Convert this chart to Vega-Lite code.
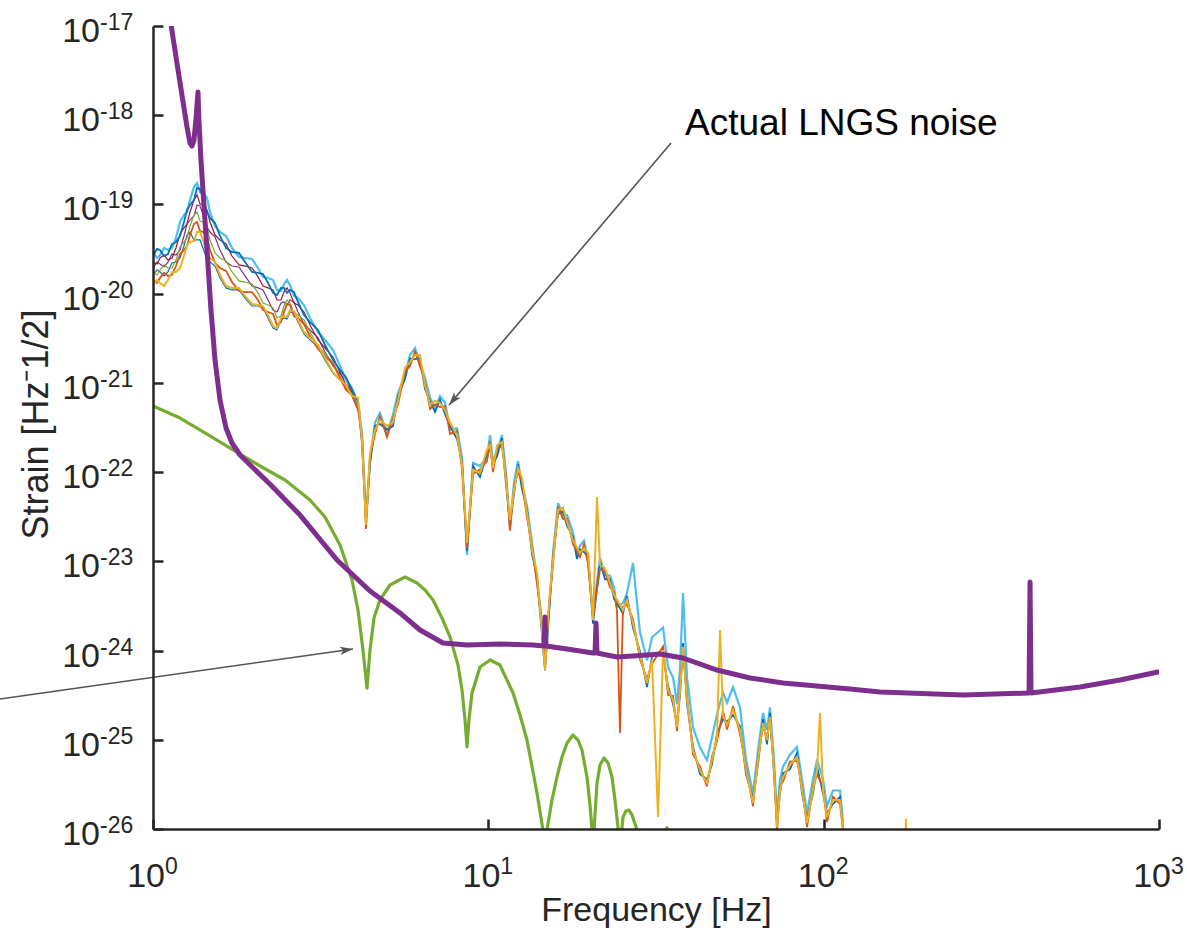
{
"$schema":"https://vega.github.io/schema/vega-lite/v6.json",
"width":1006,"height":803,
"autosize":{"type":"none"},
"padding":{"left":153,"top":26,"right":28,"bottom":105},
"background":"#ffffff",
"config":{"view":{"stroke":null},"font":"Liberation Sans"},
"datasets":{
"noise":[
{"f":1.000,"C":2.93e-20,"B":2.64e-20,"R":2.26e-20,"P":1.94e-20,"G":1.75e-20,"B2":1.62e-20,"O":1.42e-20,"Y":1.25e-20},
{"f":1.028,"C":2.51e-20,"B":3.17e-20,"R":2.15e-20,"P":2.26e-20,"G":1.62e-20,"B2":1.84e-20,"O":1.32e-20,"Y":1.42e-20},
{"f":1.049,"C":2.71e-20,"B":3.09e-20,"R":2.51e-20,"P":2.15e-20,"G":1.84e-20,"B2":1.75e-20,"O":1.50e-20,"Y":1.32e-20},
{"f":1.079,"C":3.25e-20,"B":2.64e-20,"R":2.71e-20,"P":1.99e-20,"G":2.10e-20,"B2":1.58e-20,"O":1.71e-20,"Y":1.22e-20},
{"f":1.108,"C":3.09e-20,"B":2.78e-20,"R":2.38e-20,"P":2.26e-20,"G":1.94e-20,"B2":1.75e-20,"O":1.58e-20,"Y":1.42e-20},
{"f":1.139,"C":3.25e-20,"B":3.60e-20,"R":2.51e-20,"P":2.78e-20,"G":1.94e-20,"B2":2.21e-20,"O":1.62e-20,"Y":1.75e-20},
{"f":1.171,"C":4.21e-20,"B":3.79e-20,"R":3.25e-20,"P":2.71e-20,"G":2.38e-20,"B2":2.26e-20,"O":2.04e-20,"Y":1.75e-20},
{"f":1.204,"C":6.36e-20,"B":4.43e-20,"R":4.66e-20,"P":3.09e-20,"G":3.33e-20,"B2":2.51e-20,"O":2.78e-20,"Y":1.94e-20},
{"f":1.237,"C":7.62e-20,"B":6.36e-20,"R":5.45e-20,"P":4.43e-20,"G":3.79e-20,"B2":3.42e-20,"O":3.09e-20,"Y":2.64e-20},
{"f":1.263,"C":8.23e-20,"B":8.67e-20,"R":6.04e-20,"P":6.04e-20,"G":4.21e-20,"B2":4.54e-20,"O":3.42e-20,"Y":3.51e-20},
{"f":1.289,"C":1.12e-19,"B":9.86e-20,"R":8.23e-20,"P":6.69e-20,"G":5.73e-20,"B2":4.91e-20,"O":4.55e-20,"Y":3.79e-20},
{"f":1.325,"C":1.57e-19,"B":1.12e-19,"R":1.12e-19,"P":7.42e-20,"G":7.62e-20,"B2":4.00e-20,"O":6.04e-20,"Y":3.89e-20},
{"f":1.353,"C":1.74e-19,"B":1.53e-19,"R":1.28e-19,"P":9.86e-20,"G":8.23e-20,"B2":4.00e-20,"O":6.36e-20,"Y":4.91e-20},
{"f":1.381,"C":1.38e-19,"B":1.49e-19,"R":1.01e-19,"P":9.60e-20,"G":6.52e-20,"B2":4.00e-20,"O":5.04e-20,"Y":4.91e-20},
{"f":1.409,"C":1.38e-19,"B":1.18e-19,"R":9.86e-20,"P":7.81e-20,"G":6.36e-20,"B2":3.25e-20,"O":4.91e-20,"Y":4.00e-20},
{"f":1.449,"C":1.18e-19,"B":8.23e-20,"R":8.67e-20,"P":5.59e-20,"G":5.59e-20,"B2":2.45e-20,"O":4.32e-20,"Y":2.86e-20},
{"f":1.479,"C":8.23e-20,"B":7.05e-20,"R":6.36e-20,"P":4.91e-20,"G":4.00e-20,"B2":2.26e-20,"O":3.09e-20,"Y":2.51e-20},
{"f":1.531,"C":5.73e-20,"B":6.19e-20,"R":4.54e-20,"P":4.32e-20,"G":2.86e-20,"B2":2.04e-20,"O":2.21e-20,"Y":2.26e-20},
{"f":1.584,"C":4.91e-20,"B":4.43e-20,"R":4.00e-20,"P":3.09e-20,"G":2.51e-20,"B2":1.50e-20,"O":1.94e-20,"Y":1.62e-20},
{"f":1.651,"C":4.43e-20,"B":3.25e-20,"R":3.60e-20,"P":2.26e-20,"G":2.32e-20,"B2":1.16e-20,"O":1.80e-20,"Y":1.22e-20},
{"f":1.720,"C":3.25e-20,"B":2.93e-20,"R":2.64e-20,"P":2.04e-20,"G":1.75e-20,"B2":1.10e-20,"O":1.35e-20,"Y":1.16e-20},
{"f":1.805,"C":2.58e-20,"B":2.86e-20,"R":2.10e-20,"P":1.99e-20,"G":1.39e-20,"B2":1.10e-20,"O":1.07e-20,"Y":1.16e-20},
{"f":1.881,"C":2.51e-20,"B":2.26e-20,"R":2.04e-20,"P":1.58e-20,"G":1.35e-20,"B2":8.94e-21,"O":1.04e-20,"Y":9.41e-21},
{"f":1.974,"C":2.45e-20,"B":1.75e-20,"R":1.94e-20,"P":1.22e-20,"G":1.28e-20,"B2":7.27e-21,"O":1.04e-20,"Y":7.66e-21},
{"f":2.057,"C":1.94e-20,"B":1.71e-20,"R":1.54e-20,"P":1.16e-20,"G":1.02e-20,"B2":7.27e-21,"O":8.49e-21,"Y":7.46e-21},
{"f":2.128,"C":1.54e-20,"B":1.66e-20,"R":1.22e-20,"P":1.10e-20,"G":7.86e-21,"B2":6.91e-21,"O":6.56e-21,"Y":7.27e-21},
{"f":2.203,"C":1.50e-20,"B":1.32e-20,"R":1.16e-20,"P":8.49e-21,"G":7.46e-21,"B2":5.34e-21,"O":6.23e-21,"Y":5.77e-21},
{"f":2.280,"C":1.42e-20,"B":1.02e-20,"R":1.10e-20,"P":6.56e-21,"G":6.91e-21,"B2":4.12e-21,"O":5.92e-21,"Y":4.34e-21},
{"f":2.343,"C":1.10e-20,"B":9.66e-21,"R":8.49e-21,"P":6.23e-21,"G":5.34e-21,"B2":3.92e-21,"O":4.46e-21,"Y":4.12e-21},
{"f":2.408,"C":1.07e-20,"B":1.16e-20,"R":8.49e-21,"P":7.86e-21,"G":5.62e-21,"B2":5.07e-21,"O":4.81e-21,"Y":5.34e-21},
{"f":2.458,"C":1.28e-20,"B":1.16e-20,"R":1.04e-20,"P":8.07e-21,"G":7.27e-21,"B2":5.34e-21,"O":6.23e-21,"Y":5.62e-21},
{"f":2.510,"C":1.42e-20,"B":1.02e-20,"R":1.16e-20,"P":7.46e-21,"G":8.49e-21,"B2":5.20e-21,"O":7.66e-21,"Y":5.48e-21},
{"f":2.562,"C":1.25e-20,"B":1.10e-20,"R":1.02e-20,"P":8.49e-21,"G":7.86e-21,"B2":6.23e-21,"O":7.46e-21,"Y":6.56e-21},
{"f":2.633,"C":9.41e-21,"B":1.04e-20,"R":7.86e-21,"P":8.06e-21,"G":6.07e-21,"B2":6.07e-21,"O":5.62e-21,"Y":6.39e-21},
{"f":2.706,"C":8.94e-21,"B":8.07e-21,"R":7.46e-21,"P":6.23e-21,"G":5.77e-21,"B2":4.81e-21,"O":5.34e-21,"Y":5.07e-21},
{"f":2.820,"C":7.46e-21,"B":5.77e-21,"R":6.23e-21,"P":4.57e-21,"G":5.07e-21,"B2":3.53e-21,"O":4.57e-21,"Y":3.72e-21},
{"f":2.939,"C":5.34e-21,"B":4.81e-21,"R":4.46e-21,"P":3.92e-21,"G":3.72e-21,"B2":3.03e-21,"O":3.35e-21,"Y":3.18e-21},
{"f":3.105,"C":3.72e-21,"B":3.92e-21,"R":3.03e-21,"P":3.19e-21,"G":2.59e-21,"B2":2.52e-21,"O":2.40e-21,"Y":2.66e-21},
{"f":3.258,"C":3.03e-21,"B":2.66e-21,"R":2.46e-21,"P":2.22e-21,"G":2.11e-21,"B2":1.80e-21,"O":2.00e-21,"Y":1.90e-21},
{"f":3.442,"C":2.34e-21,"B":1.81e-21,"R":1.95e-21,"P":1.55e-21,"G":1.71e-21,"B2":1.29e-21,"O":1.63e-21,"Y":1.32e-21},
{"f":3.612,"C":1.55e-21,"B":1.39e-21,"R":1.32e-21,"P":1.26e-21,"G":1.19e-21,"B2":1.08e-21,"O":1.13e-21,"Y":1.08e-21},
{"f":3.763,"C":1.08e-21,"B":1.16e-21,"R":9.47e-22,"P":1.08e-21,"G":8.76e-22,"B2":9.47e-22,"O":8.32e-22,"Y":9.47e-22},
{"f":3.922,"C":8.76e-22,"B":8.32e-22,"R":7.90e-22,"P":7.70e-22,"G":7.51e-22,"B2":7.13e-22,"O":7.31e-22,"Y":7.13e-22},
{"f":4.143,"R":4.72e-22,"P":4.60e-22,"G":4.48e-22,"B2":4.37e-22},
{"f":4.086,"Y":6.8e-22,"O":5.09e-22,"B":6.2e-22,"C":5.65e-22},
{"f":4.201,"Y":2.29e-22,"O":2.5e-22,"B":2.06e-22,"C":2.75e-22},
{"f":4.317,"Y":2.55e-23,"O":2.3e-23,"B":2.8e-23,"C":3.1e-23},
{"f":4.437,"Y":1.64e-22,"O":1.5e-22,"B":1.23e-22,"C":1.37e-22},
{"f":4.592,"Y":2.97e-22,"O":2.67e-22,"B":3.3e-22,"C":3.6e-22},
{"f":4.752,"Y":3.84e-22,"O":4.2e-22,"B":3.46e-22,"C":4.6e-22},
{"f":4.987,"Y":3.3e-22,"O":2.47e-22,"B":3.0e-22,"C":2.74e-22},
{"f":5.196,"Y":3.64e-22,"O":4.0e-22,"B":3.28e-22,"C":4.4e-22},
{"f":5.378,"Y":6.43e-22,"O":5.79e-22,"B":7.1e-22,"C":7.7e-22},
{"f":5.643,"Y":1.48e-21,"O":1.35e-21,"B":1.11e-21,"C":1.23e-21},
{"f":5.840,"Y":1.71e-21,"O":1.54e-21,"B":1.88e-21,"C":2.05e-21},
{"f":6.044,"Y":2.05e-21,"O":2.26e-21,"B":1.85e-21,"C":2.46e-21},
{"f":6.255,"Y":2.05e-21,"O":1.54e-21,"B":1.88e-21,"C":1.71e-21},
{"f":6.474,"Y":9.47e-22,"O":1.04e-21,"B":8.52e-22,"C":1.14e-21},
{"f":6.701,"Y":5.65e-22,"O":5.09e-22,"B":6.2e-22,"C":6.8e-22},
{"f":6.935,"Y":6.3e-22,"O":5.75e-22,"B":4.71e-22,"C":5.23e-22},
{"f":7.177,"Y":5.95e-22,"O":5.36e-22,"B":6.5e-22,"C":7.1e-22},
{"f":7.428,"Y":4.97e-22,"O":5.5e-22,"B":4.47e-22,"C":6.0e-22},
{"f":7.687,"Y":3.6e-22,"O":2.67e-22,"B":3.3e-22,"C":2.97e-22},
{"f":8.066,"Y":2.61e-22,"O":2.9e-22,"B":2.35e-22,"C":3.1e-22},
{"f":8.347,"Y":1.20e-22,"O":1.08e-22,"B":1.3e-22,"C":1.44e-22},
{"f":8.638,"Y":1.6e-23,"O":1.4e-23,"B":1.3e-23,"C":1.18e-23},
{"f":9.002,"Y":1.06e-22,"O":9.5e-23,"B":1.17e-22,"C":1.27e-22},
{"f":9.444,"Y":9.77e-23,"O":1.07e-22,"B":8.8e-23,"C":1.17e-22},
{"f":9.909,"Y":1.78e-22,"O":1.33e-22,"B":1.63e-22,"C":1.48e-22},
{"f":10.12,"Y":2.01e-22,"O":2.2e-22,"B":1.81e-22,"C":2.6e-22},
{"f":10.32,"Y":1.11e-22,"O":1.0e-22,"B":1.22e-22,"C":1.33e-22},
{"f":10.62,"Y":2.0e-22,"O":1.85e-22,"B":1.51e-22,"C":1.68e-22},
{"f":10.98,"Y":2.18e-22,"O":1.96e-22,"B":2.4e-22,"C":2.6e-22},
{"f":11.29,"Y":8.16e-23,"O":9.0e-23,"B":7.3e-23,"C":9.8e-23},
{"f":11.60,"Y":2.9e-23,"O":2.2e-23,"B":2.7e-23,"C":2.43e-23},
{"f":11.93,"Y":6.30e-23,"O":6.9e-23,"B":5.7e-23,"C":7.6e-23},
{"f":12.26,"Y":1.11e-22,"O":1.0e-22,"B":1.22e-22,"C":1.33e-22},
{"f":12.60,"Y":8.6e-23,"O":7.9e-23,"B":6.5e-23,"C":7.17e-23},
{"f":13.04,"Y":3.48e-23,"O":3.1e-23,"B":3.8e-23,"C":4.2e-23},
{"f":13.50,"Y":1.34e-23,"O":1.47e-23,"B":1.2e-23,"C":1.6e-23},
{"f":13.97,"Y":7.4e-24,"O":5.6e-24,"B":6.8e-24,"C":6.18e-24},
{"f":14.36,"Y":2.20e-24,"O":2.4e-24,"B":2.0e-24,"C":2.6e-24},
{"f":14.76,"Y":6.05e-25,"O":7.0e-25,"B":6.0e-25,"C":7.3e-25},
{"f":15.17,"Y":3.4e-24,"O":3.1e-24,"B":2.6e-24,"C":2.85e-24},
{"f":15.59,"Y":1.03e-23,"O":9.3e-24,"B":1.13e-23,"C":1.24e-23},
{"f":16.14,"Y":3.76e-23,"O":4.1e-23,"B":3.4e-23,"C":4.5e-23},
{"f":16.70,"Y":4.0e-23,"O":3.0e-23,"B":3.6e-23,"C":3.31e-23},
{"f":17.17,"Y":2.76e-23,"O":3.0e-23,"B":2.5e-23,"C":3.3e-23},
{"f":17.88,"Y":1.73e-23,"O":1.56e-23,"B":1.9e-23,"C":2.1e-23},
{"f":18.38,"Y":1.42e-23,"O":1.3e-23,"B":1.06e-23,"C":1.18e-23},
{"f":18.76,"Y":1.24e-23,"O":1.12e-23,"B":1.36e-23,"C":1.49e-23},
{"f":19.29,"Y":1.41e-23,"O":1.55e-23,"B":1.27e-23,"C":1.7e-23},
{"f":19.83,"Y":1.24e-23,"O":9.3e-24,"B":1.13e-23,"C":1.03e-23},
{"f":20.52,"Y":2.20e-24,"O":2.4e-24,"B":2.0e-24,"C":2.6e-24},
{"f":21.09,"Y":5.26e-23},
{"f":21.53,"Y":9.10e-24,"O":8.2e-24,"B":1.0e-23,"C":1.09e-23},
{"f":22.28,"Y":8.4e-24,"O":7.7e-24,"B":6.3e-24,"C":7.03e-24},
{"f":23.06,"Y":5.72e-24,"O":5.1e-24,"B":6.3e-24,"C":6.9e-24},
{"f":23.71,"Y":4.20e-24,"O":4.6e-24,"B":3.8e-24,"C":5.0e-24},
{"f":24.19,"Y":3.7e-24,"O":2.8e-24,"B":3.4e-24,"C":3.08e-24},
{"f":24.69,"O":1.19e-25},
{"f":25.21,"Y":2.85e-24,"O":3.1e-24,"B":2.6e-24,"C":3.4e-24},
{"f":25.91,"Y":3.69e-24,"O":3.3e-24,"B":4.1e-24,"C":4.4e-24},
{"f":27.00,"Y":2.04e-24,"O":2.24e-24,"B":1.8e-24,"C":9.6e-24},
{"f":28.33,"Y":8.92e-25,"O":8.0e-25,"B":9.8e-25,"C":1.6e-24},
{"f":29.73,"Y":4.33e-25,"O":4.8e-25,"B":3.9e-25,"C":7.8e-25},
{"f":30.77,"Y":7.84e-25,"O":7.1e-25,"B":8.6e-25,"C":1.41e-24},
{"f":32.07,"Y":1.36e-26},
{"f":33.19,"Y":1.01e-24,"O":1.11e-24,"B":9.1e-25,"C":1.8e-24},
{"f":34.35,"Y":3.61e-25,"O":3.2e-25,"B":4.0e-25,"C":6.5e-25},
{"f":35.55,"Y":2.79e-25,"O":3.1e-25,"B":2.5e-25,"C":5.0e-25},
{"f":36.53,"Y":1.39e-25,"O":1.25e-25,"B":1.53e-25,"C":2.5e-25},
{"f":37.30,"Y":3.61e-25,"O":4.0e-25,"B":3.2e-25,"C":6.5e-25},
{"f":38.07,"Y":1.10e-24,"O":9.9e-25,"B":1.21e-24,"C":4.4e-24},
{"f":39.13,"Y":2.79e-25,"O":3.1e-25,"B":2.5e-25,"C":5.0e-25},
{"f":40.77,"Y":7.68e-26,"O":6.9e-26,"B":8.4e-26,"C":1.38e-25},
{"f":42.78,"Y":4.58e-26,"O":5.0e-26,"B":4.1e-26,"C":8.2e-26},
{"f":44.89,"Y":3.28e-26,"O":3.0e-26,"B":3.6e-26,"C":5.9e-26},
{"f":46.45,"Y":5.93e-26,"O":6.5e-26,"B":5.3e-26,"C":1.07e-25},
{"f":48.08,"Y":1.07e-25,"O":9.6e-26,"B":1.18e-25,"C":1.93e-25},
{"f":49.08,"Y":1.70e-24},
{"f":50.10,"Y":1.90e-25,"O":2.1e-25,"B":1.7e-25,"C":3.4e-25},
{"f":51.50,"Y":1.46e-25,"O":1.3e-25,"B":1.6e-25,"C":2.6e-25},
{"f":53.66,"Y":2.16e-25,"O":2.4e-25,"B":1.9e-25,"C":3.9e-25},
{"f":56.30,"Y":1.29e-25,"O":1.16e-25,"B":1.42e-25,"C":2.3e-25},
{"f":58.67,"Y":4.58e-26,"O":5.0e-26,"B":4.1e-26,"C":6.0e-26},
{"f":61.55,"Y":1.96e-26,"O":1.8e-26,"B":2.2e-26,"C":2.5e-26},
{"f":63.73,"Y":5.93e-26,"O":6.5e-26,"B":5.3e-26,"C":7.7e-26},
{"f":65.93,"Y":1.54e-25,"O":1.4e-25,"B":1.7e-25,"C":2.0e-25},
{"f":67.76,"Y":9.94e-26,"O":1.09e-25,"B":8.9e-26,"C":1.29e-25},
{"f":69.16,"Y":1.80e-25,"O":1.6e-25,"B":2.0e-25,"C":2.3e-25},
{"f":71.11,"Y":4.58e-26,"O":5.0e-26,"B":4.1e-26,"C":6.0e-26},
{"f":72.58,"Y":1.05e-26,"O":9.5e-27,"B":1.15e-26,"C":1.4e-26},
{"f":74.10,"Y":2.74e-26,"O":3.0e-26,"B":2.5e-26,"C":3.6e-26},
{"f":75.64,"Y":3.83e-26,"O":3.4e-26,"B":4.2e-26,"C":5.0e-26},
{"f":79.37,"Y":5.22e-26,"O":5.7e-26,"B":4.7e-26,"C":6.8e-26},
{"f":83.28,"Y":6.41e-26,"O":5.8e-26,"B":7.1e-26,"C":8.3e-26},
{"f":86.19,"Y":2.74e-26,"O":3.0e-26,"B":2.5e-26,"C":3.6e-26},
{"f":89.20,"Y":1.17e-26,"O":1.05e-26,"B":1.3e-26,"C":1.5e-26},
{"f":92.95,"Y":2.74e-26,"O":3.0e-26,"B":2.5e-26,"C":3.6e-26},
{"f":95.56,"Y":4.58e-26,"O":4.1e-26,"B":5.0e-26,"C":6.0e-26},
{"f":97.52,"Y":2.00e-25},
{"f":99.54,"Y":2.74e-26,"O":3.0e-26,"B":2.5e-26,"C":3.6e-26},
{"f":102.3,"Y":1.36e-26,"O":1.2e-26,"B":1.5e-26,"C":1.8e-26},
{"f":106.6,"Y":2.11e-26,"O":2.3e-26,"B":1.9e-26,"C":2.7e-26},
{"f":111.9,"Y":2.11e-26,"O":1.9e-26,"B":2.3e-26,"C":2.7e-26},
{"f":114.2,"Y":9.7e-27,"O":9.7e-27,"B":1.0e-26,"C":1.2e-26},
{"f":120.0,"Y":4e-27},
{"f":175.0,"Y":4e-27},
{"f":176.0,"Y":1.3e-26},
{"f":177.0,"Y":4e-27}
],
"purple":[
{"f":1.116,"v":1.5e-17},{"f":1.132,"v":1.03e-17},{"f":1.204,"v":2.30e-18},{"f":1.263,"v":7.38e-19},
{"f":1.289,"v":4.88e-19},{"f":1.307,"v":4.52e-19},{"f":1.325,"v":5.28e-19},{"f":1.344,"v":9.31e-19},
{"f":1.362,"v":1.82e-18},{"f":1.371,"v":8.84e-19},{"f":1.390,"v":3.15e-19},{"f":1.409,"v":1.45e-19},
{"f":1.449,"v":3.09e-20},{"f":1.489,"v":6.56e-21},{"f":1.531,"v":1.80e-21},{"f":1.584,"v":6.43e-22},
{"f":1.651,"v":3.12e-22},{"f":1.720,"v":2.12e-22},{"f":1.817,"v":1.555e-22},{"f":2.234,"v":7.3e-23},
{"f":2.745,"v":3.3e-23},{"f":3.538,"v":1.035e-23},{"f":4.437,"v":4.65e-24},{"f":5.452,"v":2.64e-24},
{"f":6.255,"v":1.70e-24},{"f":7.324,"v":1.215e-24},{"f":8.638,"v":1.154e-24},{"f":10.83,"v":1.184e-24},
{"f":13.59,"v":1.154e-24},{"f":14.66,"v":1.125e-24},{"f":14.76,"v":2.38e-24},{"f":14.86,"v":1.125e-24},
{"f":17.17,"v":1.041e-24},{"f":20.52,"v":9.39e-25},{"f":20.81,"v":9.39e-25},{"f":20.95,"v":2.04e-24},
{"f":21.09,"v":9.39e-25},{"f":24.19,"v":8.47e-25},{"f":27.00,"v":8.69e-25},{"f":32.51,"v":9.15e-25},
{"f":38.07,"v":8.25e-25},{"f":48.08,"v":6.05e-25},{"f":60.30,"v":4.93e-25},{"f":75.64,"v":4.33e-25},
{"f":119.8,"v":3.71e-25},{"f":147.2,"v":3.43e-25},{"f":260.3,"v":3.18e-25},{"f":409.7,"v":3.34e-25},
{"f":412.5,"v":5.87e-24},{"f":415.3,"v":3.34e-25},{"f":581.5,"v":3.90e-25},{"f":765.0,"v":4.68e-25},
{"f":993.1,"v":5.75e-25}
],
"green":[
{"f":1.000,"v":5.51e-22},{"f":1.204,"v":4.04e-22},{"f":1.479,"v":2.54e-22},{"f":1.732,"v":1.77e-22},
{"f":2.085,"v":1.171e-22},{"f":2.476,"v":8.16e-23},{"f":2.939,"v":4.87e-23},{"f":3.258,"v":3.14e-23},
{"f":3.612,"v":1.524e-23},{"f":3.922,"v":6.18e-24},{"f":4.086,"v":2.85e-24},{"f":4.229,"v":1.014e-24},
{"f":4.347,"v":3.80e-25},{"f":4.437,"v":1.01e-24},{"f":4.560,"v":2.32e-24},{"f":4.752,"v":3.69e-24},
{"f":5.091,"v":5.43e-24},{"f":5.643,"v":6.67e-24},{"f":6.128,"v":5.72e-24},{"f":6.474,"v":4.77e-24},
{"f":6.839,"v":3.69e-24},{"f":7.274,"v":2.32e-24},{"f":7.687,"v":1.42e-24},{"f":8.121,"v":6.89e-25},
{"f":8.347,"v":3.61e-25},{"f":8.520,"v":1.67e-25},{"f":8.638,"v":8.30e-26},{"f":8.756,"v":1.67e-25},
{"f":8.939,"v":3.34e-25},{"f":9.444,"v":6.54e-25},{"f":10.12,"v":7.84e-25},{"f":10.83,"v":6.89e-25},
{"f":11.85,"v":3.34e-25},{"f":12.43,"v":1.896e-25},{"f":13.04,"v":9.94e-26},{"f":13.97,"v":2.53e-26},
{"f":14.55,"v":9.74e-27},{"f":14.76,"v":4.5e-27},{"f":14.96,"v":9.74e-27},{"f":15.48,"v":2.11e-26},
{"f":16.03,"v":3.83e-26},{"f":16.58,"v":6.41e-26},{"f":17.17,"v":9.20e-26},{"f":17.88,"v":1.13e-25},
{"f":18.51,"v":9.94e-26},{"f":19.02,"v":7.68e-26},{"f":19.69,"v":3.83e-26},{"f":20.10,"v":1.858e-26},
{"f":20.38,"v":9.74e-27},{"f":20.52,"v":4.5e-27},{"f":20.66,"v":9.74e-27},{"f":21.09,"v":3.28e-26},
{"f":21.53,"v":5.22e-26},{"f":22.13,"v":6.25e-26},{"f":22.75,"v":5.49e-26},{"f":23.38,"v":3.83e-26},
{"f":23.86,"v":2.11e-26},{"f":24.36,"v":1.05e-26},{"f":24.69,"v":5.8e-27},{"f":25.21,"v":1.36e-26},
{"f":25.73,"v":1.59e-26},{"f":26.27,"v":1.63e-26},{"f":26.82,"v":1.435e-26},{"f":27.76,"v":9.74e-27},
{"f":28.33,"v":4.5e-27},{"f":32.51,"v":4.5e-27},{"f":34.11,"v":1.03e-26},{"f":35.79,"v":4.5e-27}
],
"ylab":[
{"v":1e-17,"e":"-17"},{"v":1e-18,"e":"-18"},{"v":1e-19,"e":"-19"},{"v":1e-20,"e":"-20"},{"v":1e-21,"e":"-21"},
{"v":1e-22,"e":"-22"},{"v":1e-23,"e":"-23"},{"v":1e-24,"e":"-24"},{"v":1e-25,"e":"-25"},{"v":1e-26,"e":"-26"}
],
"xlab":[{"f":1,"e":"0"},{"f":10,"e":"1"},{"f":100,"e":"2"},{"f":1000,"e":"3"}],
"arrows":[
{"id":"a","f":35.06,"v":4.88e-19,"f2":7.633,"v2":5.65e-22},
{"id":"b","f":0.3499,"v":2.864e-25,"f2":3.949,"v2":1.041e-24}
],
"notes":[{"f":38.6,"v":6.0e-19,"t":"Actual LNGS noise"}]
},
"layer":[
{"data":{"name":"noise"},"transform":[{"filter":"isValid(datum.B2)"}],
 "mark":{"type":"line","color":"#0072BD","strokeWidth":1.2,"clip":true},
 "encoding":{
  "x":{"field":"f","type":"quantitative","scale":{"type":"log","domain":[1,1000]},
   "axis":{"values":[1,10,100,1000],"labels":false,"grid":false,"tickSize":-10,"tickWidth":2.5,"tickColor":"#262626",
    "domainColor":"#262626","domainWidth":2.5,"zindex":2,"title":"Frequency [Hz]","titleFont":"Liberation Sans","titleFontSize":34,
    "titleFontWeight":"normal","titleColor":"#262626","titleX":503,"titleY":91,"titleAlign":"center","titleBaseline":"alphabetic"}},
  "y":{"field":"B2","type":"quantitative","scale":{"type":"log","domain":[1e-26,1e-17]},
   "axis":{"values":[1e-26,1e-25,1e-24,1e-23,1e-22,1e-21,1e-20,1e-19,1e-18,1e-17],"labels":false,"grid":false,"tickSize":-10,
    "tickWidth":2.5,"tickColor":"#262626","domainColor":"#262626","domainWidth":2.5,"zindex":2,"title":"Strain [Hz⁻1/2]",
    "titleFont":"Liberation Sans","titleFontSize":36,"titleFontWeight":"normal","titleColor":"#262626",
    "titleAngle":-90,"titleX":-106,"titleY":398,"titleAlign":"center","titleBaseline":"alphabetic"}}}},
{"data":{"name":"noise"},"transform":[{"filter":"isValid(datum.P)"}],
 "mark":{"type":"line","color":"#7E2F8E","strokeWidth":1.2,"clip":true},
 "encoding":{"x":{"field":"f","type":"quantitative"},"y":{"field":"P","type":"quantitative"}}},
{"data":{"name":"noise"},"transform":[{"filter":"isValid(datum.G)"}],
 "mark":{"type":"line","color":"#77AC30","strokeWidth":1.2,"clip":true},
 "encoding":{"x":{"field":"f","type":"quantitative"},"y":{"field":"G","type":"quantitative"}}},
{"data":{"name":"noise"},"transform":[{"filter":"isValid(datum.R)"}],
 "mark":{"type":"line","color":"#A2142F","strokeWidth":1.2,"clip":true},
 "encoding":{"x":{"field":"f","type":"quantitative"},"y":{"field":"R","type":"quantitative"}}},
{"data":{"name":"noise"},"transform":[{"filter":"isValid(datum.C)"}],
 "mark":{"type":"line","color":"#4DBEEE","strokeWidth":2.2,"clip":true},
 "encoding":{"x":{"field":"f","type":"quantitative"},"y":{"field":"C","type":"quantitative"}}},
{"data":{"name":"noise"},"transform":[{"filter":"isValid(datum.B)"}],
 "mark":{"type":"line","color":"#0072BD","strokeWidth":1.8,"clip":true},
 "encoding":{"x":{"field":"f","type":"quantitative"},"y":{"field":"B","type":"quantitative"}}},
{"data":{"name":"noise"},"transform":[{"filter":"isValid(datum.O)"}],
 "mark":{"type":"line","color":"#D95319","strokeWidth":1.8,"clip":true},
 "encoding":{"x":{"field":"f","type":"quantitative"},"y":{"field":"O","type":"quantitative"}}},
{"data":{"name":"noise"},"transform":[{"filter":"isValid(datum.Y)"}],
 "mark":{"type":"line","color":"#EDB120","strokeWidth":2,"clip":true},
 "encoding":{"x":{"field":"f","type":"quantitative"},"y":{"field":"Y","type":"quantitative"}}},
{"data":{"name":"green"},
 "mark":{"type":"line","color":"#77AC30","strokeWidth":3.2,"clip":true,"strokeJoin":"round"},
 "encoding":{"x":{"field":"f","type":"quantitative"},"y":{"field":"v","type":"quantitative"}}},
{"data":{"name":"purple"},
 "mark":{"type":"line","color":"#7E2F8E","strokeWidth":5,"clip":true,"strokeJoin":"round","strokeCap":"round"},
 "encoding":{"x":{"field":"f","type":"quantitative"},"y":{"field":"v","type":"quantitative"}}},
{"data":{"name":"arrows"},
 "mark":{"type":"rule","color":"#555555","strokeWidth":1.6,"clip":false},
 "encoding":{"x":{"field":"f","type":"quantitative"},"y":{"field":"v","type":"quantitative"},
  "x2":{"field":"f2"},"y2":{"field":"v2"}}},
{"data":{"name":"arrows"},"transform":[{"filter":"datum.id == 'a'"}],
 "mark":{"type":"point","shape":"M0,0L-0.65,2L0,1.5L0.65,2Z","filled":true,"color":"#555555","opacity":1,"size":169,"angle":220.3,"clip":false},
 "encoding":{"x":{"field":"f2","type":"quantitative"},"y":{"field":"v2","type":"quantitative"}}},
{"data":{"name":"arrows"},"transform":[{"filter":"datum.id == 'b'"}],
 "mark":{"type":"point","shape":"M0,0L-0.65,2L0,1.5L0.65,2Z","filled":true,"color":"#555555","opacity":1,"size":169,"angle":81.9,"clip":false},
 "encoding":{"x":{"field":"f2","type":"quantitative"},"y":{"field":"v2","type":"quantitative"}}},
{"data":{"name":"notes"},
 "mark":{"type":"text","align":"left","baseline":"alphabetic","fontSize":37,"color":"#000000","font":"Liberation Sans"},
 "encoding":{"x":{"field":"f","type":"quantitative"},"y":{"field":"v","type":"quantitative"},"text":{"field":"t"}}},
{"data":{"name":"ylab"},
 "mark":{"type":"text","text":"10","align":"right","baseline":"alphabetic","dx":-53,"dy":16,"fontSize":34,"color":"#262626","font":"Liberation Sans"},
 "encoding":{"x":{"datum":1,"type":"quantitative"},"y":{"field":"v","type":"quantitative"}}},
{"data":{"name":"ylab"},
 "mark":{"type":"text","align":"left","baseline":"alphabetic","dx":-53,"dy":4,"fontSize":23,"color":"#262626","font":"Liberation Sans"},
 "encoding":{"x":{"datum":1,"type":"quantitative"},"y":{"field":"v","type":"quantitative"},"text":{"field":"e"}}},
{"data":{"name":"xlab"},
 "mark":{"type":"text","text":"10","align":"right","baseline":"alphabetic","dx":12,"dy":58,"fontSize":34,"color":"#262626","font":"Liberation Sans"},
 "encoding":{"x":{"field":"f","type":"quantitative"},"y":{"datum":1e-26,"type":"quantitative"}}},
{"data":{"name":"xlab"},
 "mark":{"type":"text","align":"left","baseline":"alphabetic","dx":12,"dy":45,"fontSize":23,"color":"#262626","font":"Liberation Sans"},
 "encoding":{"x":{"field":"f","type":"quantitative"},"y":{"datum":1e-26,"type":"quantitative"},"text":{"field":"e"}}}
]
}
